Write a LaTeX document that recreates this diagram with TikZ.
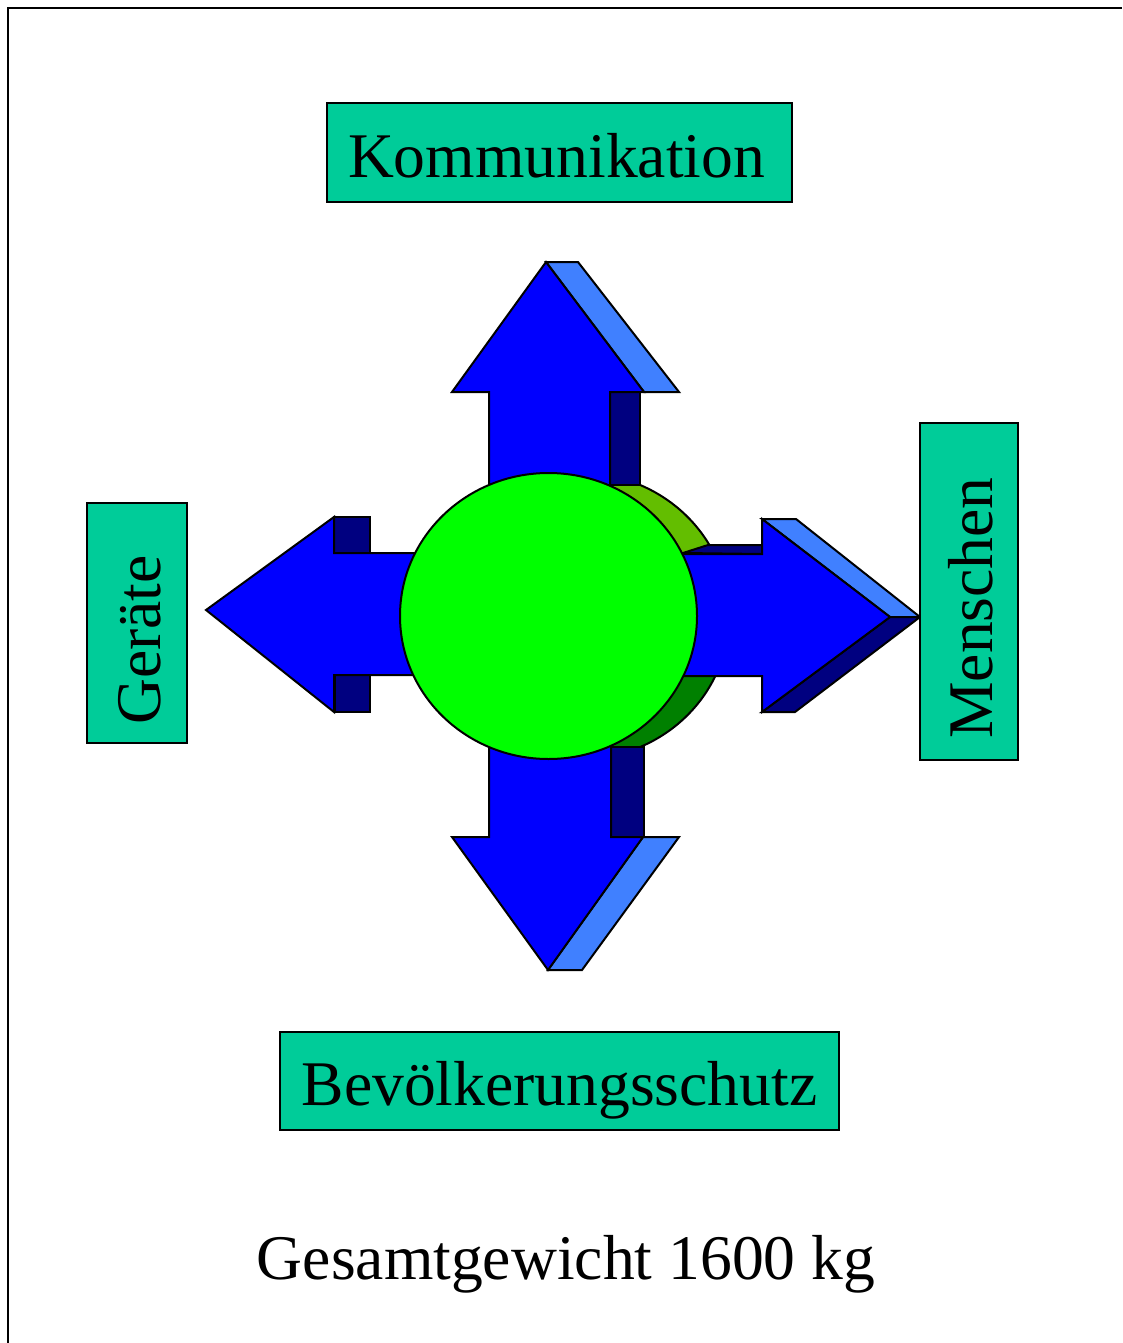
\documentclass[tikz,border=0pt]{standalone}
\usepackage{fontspec}
\setmainfont{Liberation Serif}
\definecolor{boxgreen}{RGB}{0,204,153}
\definecolor{arrblue}{RGB}{0,0,255}
\definecolor{arrlight}{RGB}{64,128,255}
\definecolor{arrdark}{RGB}{0,0,128}
\definecolor{discgreen}{RGB}{0,255,0}
\definecolor{ringlight}{RGB}{99,190,0}
\definecolor{ringdark}{RGB}{0,128,0}
\begin{document}
\begin{tikzpicture}[x=1pt,y=-1pt,
  face/.style={draw=black,line width=2pt,line join=miter},
  lbl/.style={draw=black,line width=2pt,fill=boxgreen,inner sep=0pt,text depth=0pt,font=\fontsize{63.6pt}{70pt}\selectfont},
]
\useasboundingbox (0,0) rectangle (1122,1343);
\draw[line width=2.2pt] (8,1343) -- (8,8) -- (1122,8);

% cylinder side of the disc
\begin{scope}
  \clip (0,0) rectangle (1122,616);
  \fill[ringlight] (548.5,473) rectangle (580.5,759);
  \fill[ringlight] (580.5,616) ellipse [x radius=148.5,y radius=143];
\end{scope}
\begin{scope}
  \clip (0,616) rectangle (1122,1343);
  \fill[ringdark] (548.5,473) rectangle (580.5,759);
  \fill[ringdark] (580.5,616) ellipse [x radius=148.5,y radius=143];
\end{scope}
\draw[line width=2pt] (580.5,616) ellipse [x radius=148.5,y radius=143];

% up arrow
\draw[face,fill=arrdark] (610,392) -- (640,392) -- (640,485) -- (610,485) -- cycle;
\draw[face,fill=arrlight] (546,262) -- (578,262) -- (679,392) -- (644,392) -- cycle;
\draw[face,fill=arrblue] (489,600) -- (489,392) -- (452,392) -- (546,262) -- (644,392) -- (610,392) -- (610,600) -- cycle;

% down arrow
\draw[face,fill=arrdark] (611,747) -- (644,747) -- (644,837) -- (611,837) -- cycle;
\draw[face,fill=arrlight] (643,837) -- (679,837) -- (582,970) -- (548,970) -- cycle;
\draw[face,fill=arrblue] (489,640) -- (489,837) -- (452,837) -- (548,970) -- (643,837) -- (611,837) -- (611,640) -- cycle;

% left arrow
\draw[face,fill=arrdark] (334,517) -- (370,517) -- (370,553) -- (334,553) -- cycle;
\draw[face,fill=arrdark] (335,675) -- (370,675) -- (370,712) -- (335,712) -- cycle;
\draw[face,fill=arrblue] (460,553) -- (334,553) -- (334,517) -- (206,610) -- (334,712) -- (334,675) -- (460,675) -- cycle;

% right arrow
\draw[face,fill=arrdark] (683,553) -- (708,545) -- (762,545) -- (762,554) -- cycle;
\draw[face,fill=arrlight] (762,519) -- (796,519) -- (920,617) -- (890,617) -- cycle;
\draw[face,fill=arrdark] (890,617) -- (920,617) -- (795,712) -- (762,712) -- cycle;
\draw[face,fill=arrblue] (640,554) -- (762,554) -- (762,519) -- (890,617) -- (762,712) -- (762,676) -- (640,676) -- cycle;

% front disc
\draw[line width=2pt,fill=discgreen] (548.5,616) ellipse [x radius=148.5,y radius=143];

% labels
\node[lbl,minimum width=465pt,minimum height=99pt,text height=51pt] (komm) at (559.5,152.5) {\hspace*{-6pt}Kommunikation};
\node[lbl,minimum width=559pt,minimum height=98pt,text height=48pt] (bevs) at (559.5,1081) {Bevölkerungsschutz};
\node[lbl,rotate=90,minimum width=337pt,minimum height=98pt,text height=46pt] (mensch) at (969,591.5) {\hspace*{-33pt}Menschen};
\node[lbl,rotate=90,minimum width=240pt,minimum height=100pt,text height=46pt] (geraete) at (137,623) {\hspace*{-34pt}Geräte};
\node[font=\fontsize{63.6pt}{70pt}\selectfont,anchor=base,inner sep=0pt] (gesamt) at (566,1279) {Gesamtgewicht 1600 kg};
\end{tikzpicture}
\end{document}
